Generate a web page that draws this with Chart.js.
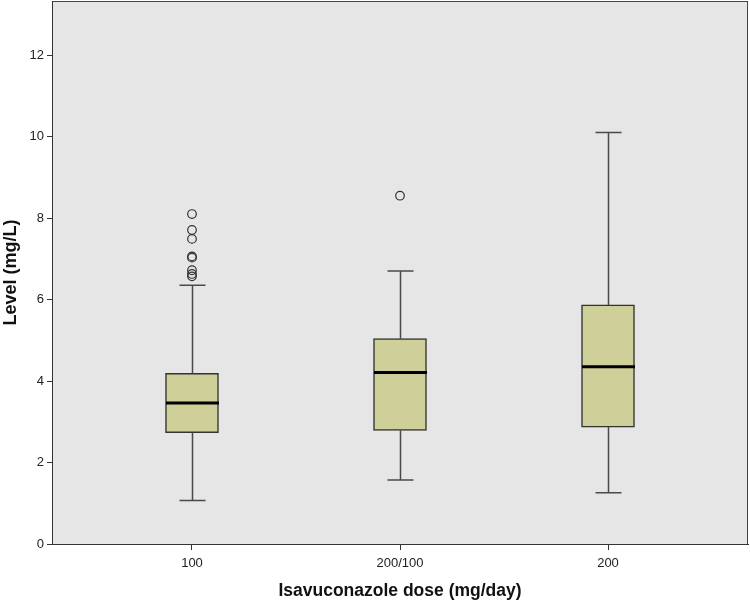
<!DOCTYPE html>
<html>
<head>
<meta charset="utf-8">
<script src="https://cdn.jsdelivr.net/npm/chart.js@4.4.1/dist/chart.umd.min.js"></script>
<style>
  body { margin: 0; background: #fff; }
  #wrap { width: 750px; height: 601px; }
</style>
</head>
<body>
<div id="wrap"><canvas id="boxChart" width="750" height="601"></canvas></div>
<script>
// Data
const categories = ['100', '200/100', '200'];
const whiskerLow = [1.07, 1.57, 1.26];
const q1 = [2.73, 2.79, 2.87];
const median = [3.46, 4.21, 4.35];
const q3 = [4.19, 5.04, 5.87];
const whiskerHigh = [6.35, 6.70, 10.10];
const outliers = [
  [8.10, 7.71, 7.49, 7.06, 7.03, 6.72, 6.63, 6.57],
  [8.55],
  []
];
const yTicks = [0, 2, 4, 6, 8, 10, 12];

const boxWidth = 53;
const capWidth = 26;
const fontFamily = '"Liberation Sans", Arial, sans-serif';

const boxData = categories.map((c, i) => ({ x: i + 1, y: [q1[i], q3[i]] }));
const outlierData = [];
outliers.forEach((list, i) => {
  list.forEach(v => outlierData.push({ x: i + 1, y: v }));
});

// plot background + outline
const plotBg = {
  id: 'plotBg',
  beforeDraw(chart) {
    const { ctx, chartArea: a } = chart;
    ctx.save();
    ctx.fillStyle = '#e6e6e6';
    ctx.fillRect(a.left, a.top, a.right - a.left, a.bottom - a.top);
    ctx.strokeStyle = '#444';
    ctx.lineWidth = 1;
    ctx.strokeRect(a.left + 0.5, a.top + 0.5, a.right - a.left - 1, a.bottom - a.top);
    ctx.restore();
  }
};

// whiskers, caps and medians
const boxParts = {
  id: 'boxParts',
  afterDatasetsDraw(chart) {
    const { ctx, scales: { x, y } } = chart;
    ctx.save();
    categories.forEach((c, i) => {
      const px = Math.round(x.getPixelForValue(i + 1)) + 0.5;
      ctx.strokeStyle = '#4a4a4a';
      ctx.lineWidth = 1.5;
      ctx.beginPath();
      ctx.moveTo(px, y.getPixelForValue(q3[i]));
      ctx.lineTo(px, y.getPixelForValue(whiskerHigh[i]));
      ctx.moveTo(px, y.getPixelForValue(q1[i]));
      ctx.lineTo(px, y.getPixelForValue(whiskerLow[i]));
      ctx.moveTo(px - capWidth / 2, y.getPixelForValue(whiskerHigh[i]));
      ctx.lineTo(px + capWidth / 2, y.getPixelForValue(whiskerHigh[i]));
      ctx.moveTo(px - capWidth / 2, y.getPixelForValue(whiskerLow[i]));
      ctx.lineTo(px + capWidth / 2, y.getPixelForValue(whiskerLow[i]));
      ctx.stroke();

      ctx.strokeStyle = '#000';
      ctx.lineWidth = 3;
      ctx.beginPath();
      ctx.moveTo(px - boxWidth / 2, y.getPixelForValue(median[i]));
      ctx.lineTo(px + boxWidth / 2, y.getPixelForValue(median[i]));
      ctx.stroke();
    });
    ctx.restore();
  }
};

const ctx = document.getElementById('boxChart').getContext('2d');
const boxChart = new Chart(ctx, {
  type: 'bar',
  data: {
    datasets: [{
      type: 'bar',
      data: boxData,
      backgroundColor: '#cfcf99',
      borderColor: '#333',
      borderWidth: 1.5,
      borderSkipped: false,
      barThickness: boxWidth,
      order: 2
    }, {
      type: 'scatter',
      data: outlierData,
      pointRadius: 4.3,
      pointBackgroundColor: 'rgba(0,0,0,0)',
      pointBorderColor: '#333',
      pointBorderWidth: 1.2,
      order: 1
    }]
  },
  options: {
    responsive: false,
    animation: false,
    devicePixelRatio: 1,
    layout: { autoPadding: false, padding: { top: 1, right: 2, left: 0, bottom: 0 } },
    plugins: {
      legend: { display: false },
      tooltip: { enabled: false }
    },
    scales: {
      x: {
        type: 'linear',
        offset: false,
        min: 0.327,
        max: 3.673,
        afterBuildTicks: (scale) => {
          scale.ticks = categories.map((c, i) => ({ value: i + 1 }));
        },
        afterFit: (scale) => {
          scale.height = 57;
          scale.paddingLeft = 0;
          scale.paddingRight = 0;
        },
        grid: { offset: false, drawOnChartArea: false, tickLength: 6, color: '#333' },
        border: { color: '#333', width: 1 },
        ticks: {
          color: '#222',
          padding: 6,
          font: { family: fontFamily, size: 13 },
          callback: (v) => categories[v - 1]
        },
        title: {
          display: true,
          text: 'Isavuconazole dose (mg/day)',
          color: '#111',
          padding: { top: 0, bottom: -1 },
          font: { family: fontFamily, size: 17.5, weight: 'bold' }
        }
      },
      y: {
        min: 0,
        max: 13.33,
        afterBuildTicks: (scale) => {
          scale.ticks = yTicks.map(v => ({ value: v }));
        },
        afterFit: (scale) => {
          scale.width = 52;
          scale.paddingTop = 0;
          scale.paddingBottom = 0;
        },
        grid: { drawOnChartArea: false, tickLength: 5, color: '#333' },
        border: { color: '#333', width: 1 },
        ticks: {
          color: '#222',
          padding: 3,
          font: { family: fontFamily, size: 13 }
        },
        title: {
          display: true,
          text: 'Level (mg/L)',
          color: '#111',
          padding: { top: 0, bottom: 0 },
          font: { family: fontFamily, size: 18, weight: 'bold' }
        }
      }
    }
  },
  plugins: [plotBg, boxParts]
});
</script>
</body>
</html>
